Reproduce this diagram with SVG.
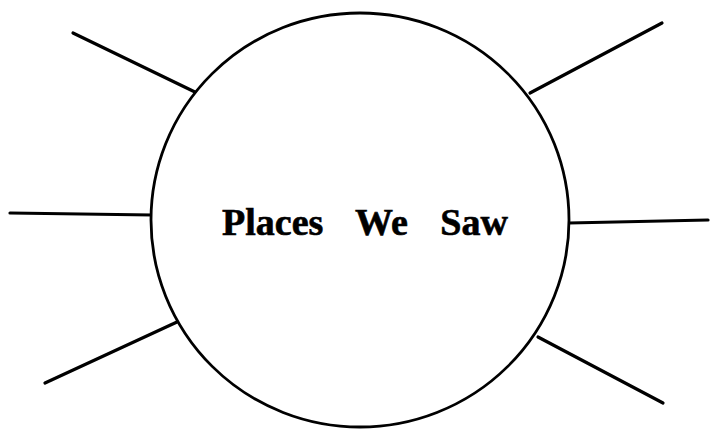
<svg xmlns="http://www.w3.org/2000/svg" width="710" height="430" viewBox="0 0 710 430">
<style>
.ln{stroke:#000;stroke-width:3.2;stroke-linecap:round;fill:none}
.hub{fill:#fff;stroke:#000;stroke-width:2.8}
.t{font-family:"Liberation Serif","Times New Roman",serif;font-weight:bold;font-size:38px;fill:#000;stroke:#000;stroke-width:0.6;word-spacing:23px}
</style>
<rect width="710" height="430" fill="#fff"/>
<g id="connectors">
<line class="ln" x1="73" y1="33" x2="197" y2="93"/>
<line class="ln" x1="530" y1="93" x2="662" y2="23"/>
<line class="ln" x1="10" y1="213" x2="152" y2="215"/>
<line class="ln" x1="569" y1="223" x2="708" y2="220"/>
<line class="ln" x1="45" y1="383" x2="177" y2="322"/>
<line class="ln" x1="538" y1="337" x2="663" y2="403"/>
</g>
<g id="hub">
<ellipse class="hub" cx="360" cy="220" rx="209" ry="207"/>
<text class="t" x="222" y="235">Places We Saw</text>
</g>
</svg>
